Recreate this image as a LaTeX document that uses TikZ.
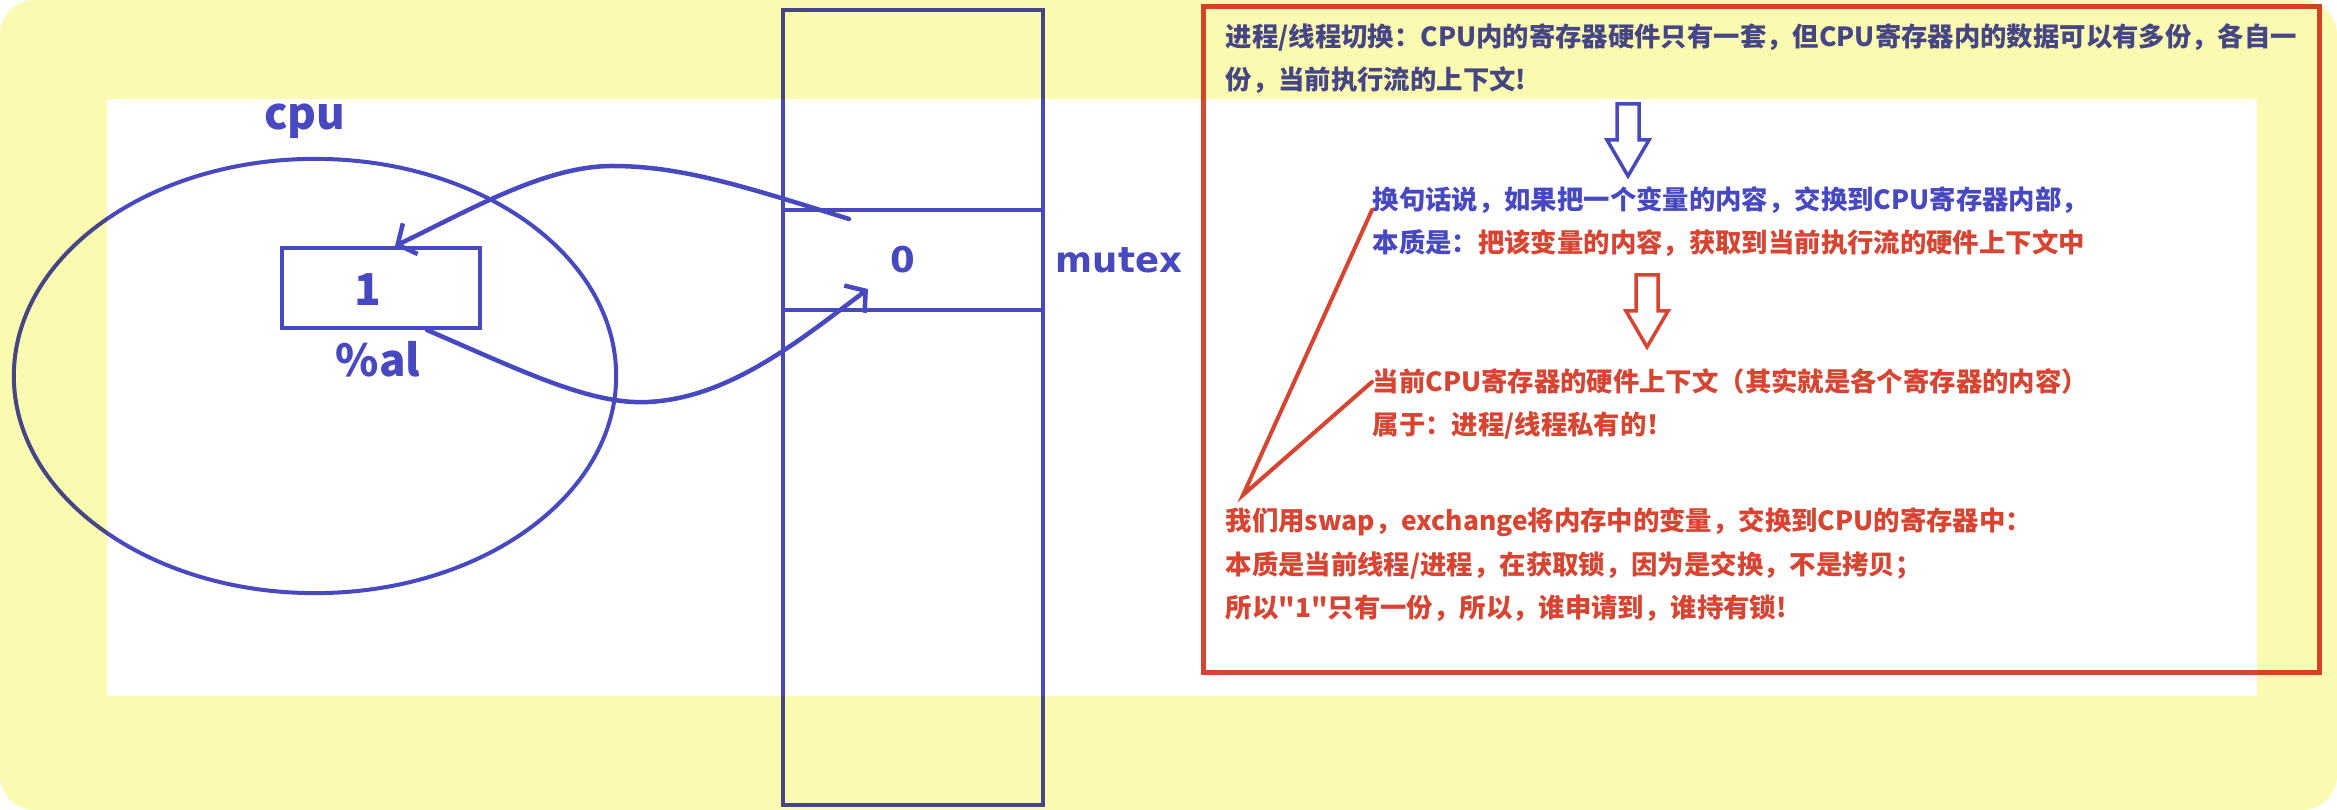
\documentclass[tikz,border=0pt]{standalone}
\usepackage{fontspec}
\setmainfont{Noto Sans CJK SC}
\newfontfamily\plaincjk{Noto Sans CJK SC}
\newfontfamily\verdfont{DejaVu Sans}
\usetikzlibrary{positioning,shapes.geometric,arrows.meta}
\definecolor{cpublue}{RGB}{72,72,192}
\definecolor{notered}{RGB}{216,68,50}
\definecolor{padyellow}{RGB}{250,250,176}

\begin{document}
\begin{tikzpicture}[
    x=0.01cm, y=-0.01cm, % one unit is one pixel of the sketch
    line cap=round,
    pen/.style={draw=cpublue, line width=0.04cm},
    regbox/.style={pen, rectangle, minimum width=1.98cm, minimum height=0.8cm, inner sep=0},
    memcell/.style={pen, rectangle, minimum width=2.6cm, inner sep=0},
    bluetxt/.style={text=cpublue, font=\bfseries\fontsize{12.5}{14}\selectfont, inner sep=0},
    memtxt/.style={text=cpublue, font=\verdfont\bfseries\fontsize{10.1}{12}\selectfont, inner sep=0},
    note/.style={anchor=base west, inner sep=0, font=\plaincjk\bfseries\fontsize{7.5}{9}\selectfont},
    xchg/.style={cpublue, line width=0.045cm, -{Straight Barb[length=0.14cm,width=0.34cm]}},
    pointer/.style={draw=notered, line width=0.04cm}
]
    \useasboundingbox (0,0) rectangle (2337,810);
    \fill[white] (0,0) rectangle (2337,810);

    % cpu and its register
    \node[pen, ellipse, minimum width=6.02cm, minimum height=4.34cm, inner sep=0] (cpu) at (315,376) {};
    \node[bluetxt, anchor=base] (cpulbl) at (305,130) {cpu};
    \node[regbox] (al) at (381,288) {};
    \node[bluetxt] (alval) at (368,290) {1};
    \node[bluetxt, anchor=base] (allbl) at (378,377) {\%al};

    % memory with the mutex cell
    \node[memcell, minimum height=7.95cm] (mem) at (913,407.5) {};
    \node[memcell, minimum height=1cm] (cell) at (913,260) {};
    \node[memtxt] (cellval) at (903,260) {0};
    \node[memtxt, right=0.1cm of cell] (mutexlbl) {mutex};

    % exchange arrows
    \draw[xchg] ([xshift=-0.64cm,yshift=0.41cm]cell.center) .. controls (740,185) and (680,166) .. (612,166)
        .. controls (545,166) and (470,210) .. ([xshift=0.14cm]al.north);
    \draw[xchg] ([xshift=0.46cm]al.south) .. controls (520,370) and (590,405) .. (648,402)
        .. controls (730,398) and (800,340) .. ([xshift=-0.45cm,yshift=-0.29cm]cell.center);

    % notes
    \node[draw=notered, line width=0.05cm, minimum width=11.15cm, minimum height=6.65cm, inner sep=0] (notebox) at (1761.5,339.5) {};
    \node[note, text=cpublue] (sw1) at (1225,47) {进程/线程切换：CPU内的寄存器硬件只有一套，但CPU寄存器内的数据可以有多份，各自一};
    \node[note, text=cpublue] (sw2) at (1225,90) {份，当前执行流的上下文!};
    \node[note, text=cpublue] (ctx1) at (1372,210) {换句话说，如果把一个变量的内容，交换到CPU寄存器内部，};
    \node[note, text=cpublue] (ctx2) at (1372,253) {本质是：\textcolor{notered}{把该变量的内容，获取到当前执行流的硬件上下文中}};
    \node[note, text=notered] (own1) at (1372,392) {当前CPU寄存器的硬件上下文（其实就是各个寄存器的内容）};
    \node[note, text=notered] (own2) at (1372,435) {属于：进程/线程私有的！};
    \node[note, text=notered] (lock1) at (1225,531) {我们用swap，exchange将内存中的变量，交换到CPU的寄存器中：};
    \node[note, text=notered] (lock2) at (1225,574) {本质是当前线程/进程，在获取锁，因为是交换，不是拷贝；};
    \node[note, text=notered] (lock3) at (1225,617) {所以"1"只有一份，所以，谁申请到，谁持有锁!};

    % hollow arrows between the notes
    \foreach \ax/\ay/\acol in {1628/104/cpublue, 1647/275/notered}
        \draw[draw=\acol, line width=0.035cm, line join=miter] (\ax-11,\ay) -- (\ax+11,\ay) -- (\ax+11,\ay+36)
            -- (\ax+21,\ay+36) -- (\ax,\ay+72) -- (\ax-21,\ay+36) -- (\ax-11,\ay+36) -- cycle;

    \coordinate (tip) at (1243,495);
    \draw[pointer] (ctx1.base west) -- (tip) -- (own1.west);

    % yellow pad on top
    \fill[padyellow, blend mode=multiply, even odd rule, rounded corners=0.35cm] (0,0) rectangle (2337,810)
        [sharp corners] (107,99) rectangle (2257,696);
\end{tikzpicture}
\end{document}
